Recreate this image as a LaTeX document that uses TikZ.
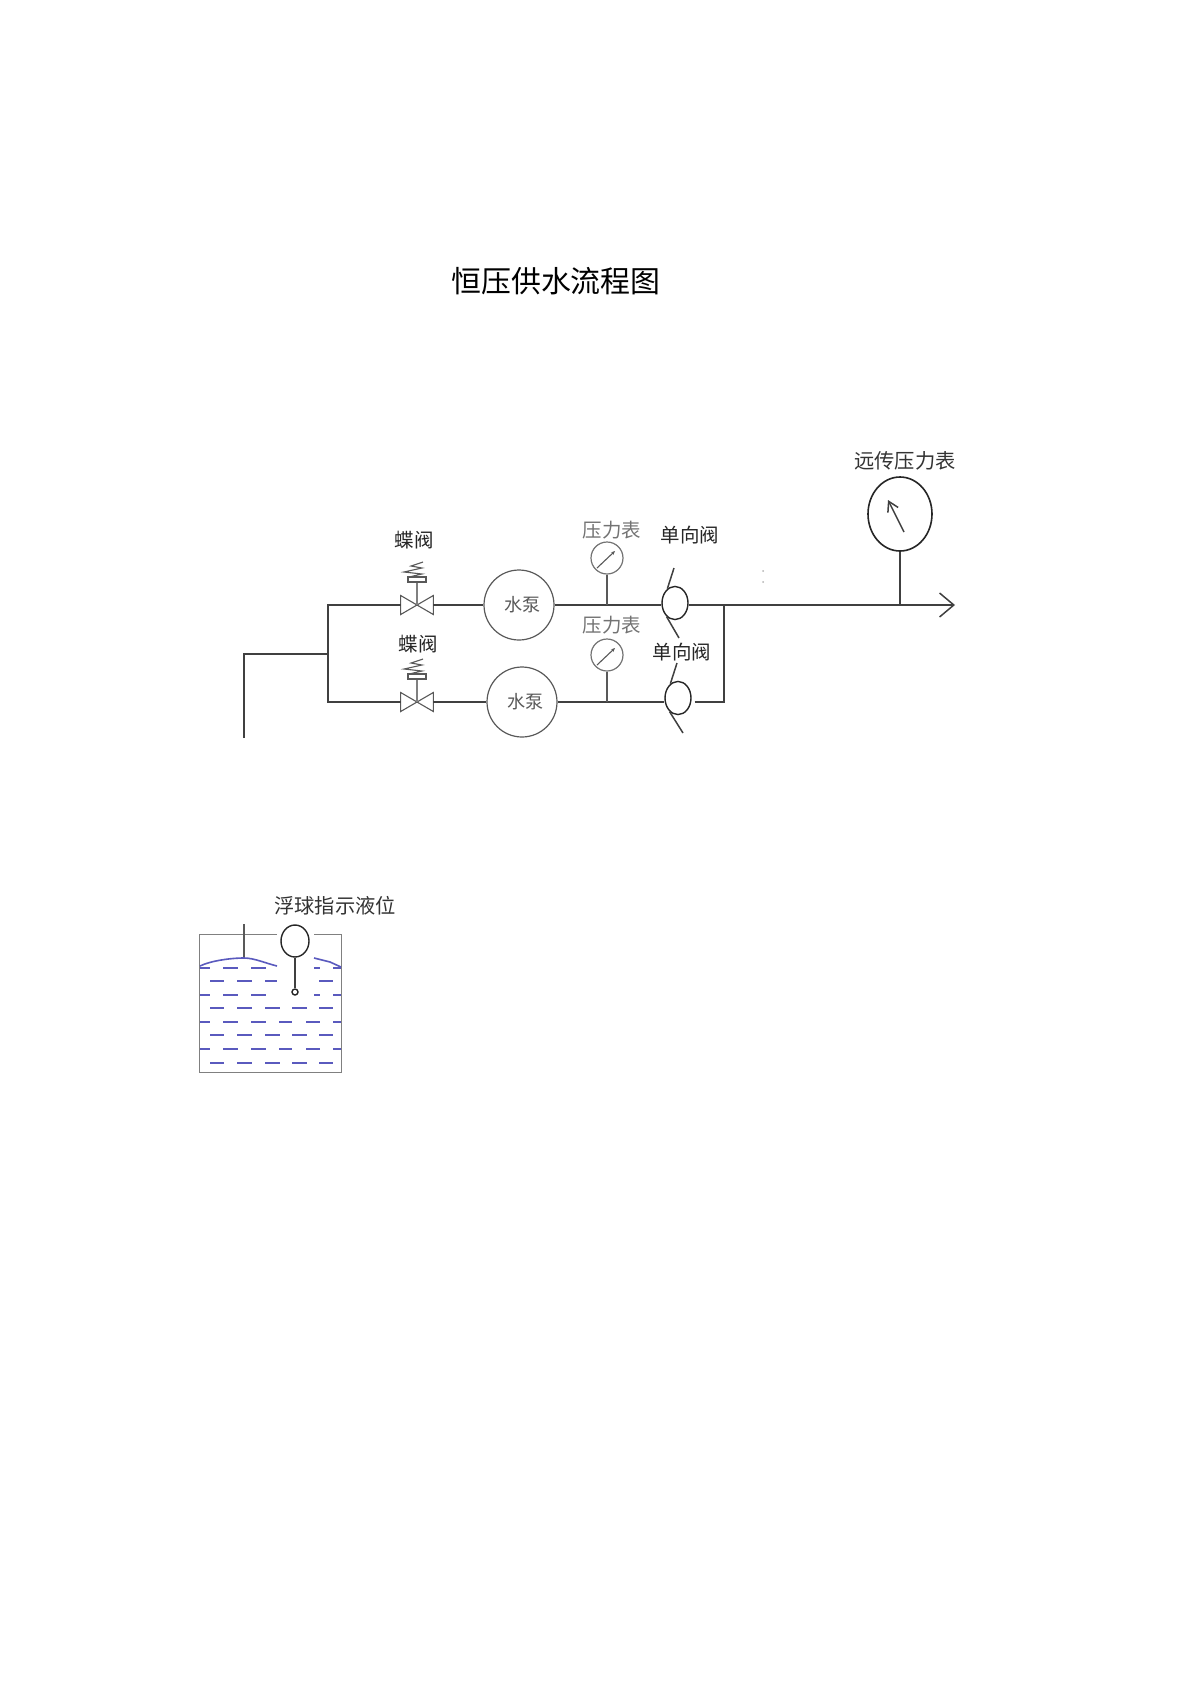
\documentclass[tikz,border=0pt]{standalone}
\usepackage{fontspec}
\setmainfont{Noto Sans CJK SC}
\usetikzlibrary{shapes.geometric,arrows.meta,calc}
\definecolor{waterblue}{RGB}{90,90,190}
\tikzset{
	pipe/.style={line width=.75pt,color=black!75},
	thinpipe/.style={line width=.55pt,color=black!65},
	label/.style={inner sep=0pt,font=\fontsize{9.7}{11}\selectfont,color=black!85},
	biglabel/.style={inner sep=0pt,font=\fontsize{10.1}{12}\selectfont,color=black!80},
	pumpbox/.style={circle,draw=black!65,line width=.6pt,minimum size=1.225cm,inner sep=0pt,font=\fontsize{9}{10}\selectfont,text=black!65},
	gaugebox/.style={circle,draw=black!55,line width=.6pt,minimum size=.56cm,inner sep=0pt},
	valvebox/.style={inner sep=0pt,minimum width=.56cm,minimum height=.32cm},
	checkbox/.style={ellipse,draw=black!85,line width=.7pt,minimum width=.455cm,minimum height=.58cm,inner sep=0pt},
	water/.style={line width=.55pt,color=waterblue},
}
\begin{document}
\begin{tikzpicture}[x=.0175cm,y=-.0175cm]
			\useasboundingbox (0,0) rectangle (1200,1697);
			\node[inner sep=0pt,font=\fontsize{14.9}{17}\selectfont] (title) at (556,281) {恒压供水流程图};

			\foreach \n/\y/\px/\chx/\chy/\vlab/\vlaby/\plab/\clabx/\claby/\sy/\ey/\sx/\ex in {a/605/519/675/603/414/540/530/690/535/568/638/674/679,b/702/522/678/698/418/644/625/682/652/663/733/677/683}
			{
				\node[valvebox] (valve\n) at (417,\y) {};
				\draw[thinpipe] (valve\n.north west) -- (valve\n.south east) -- (valve\n.north east) -- (valve\n.south west) -- cycle;
				\draw[gray,line width=1.1pt] (valve\n.center) -- ++(0,-23);
				\draw[thinpipe,fill=white,shift={(417,\y)}] (-9,-28) rectangle (9,-23);
				\draw[thinpipe,shift={(417,\y)}] (6,-43) -- (-6,-39) -- (5,-37) -- (-13,-33) -- (5,-31) -- (-8,-28);
				\node[label] (valvelabel\n) at (\vlab,\vlaby) {蝶阀};

				\node[pumpbox] (pump\n) at (\px,\y) {\hspace*{.12cm}水泵};
				\node[gaugebox] (gauge\n) at (607,\y-47) {};
				\draw[thinpipe,-{Stealth[length=.07cm,width=.06cm]}] ($(gauge\n.center)+(-10,10)$) -- ($(gauge\n.center)+(8,-7)$);
				\node[label,text=black!55] (gaugelabel\n) at (612,\plab) {压力表};
				\node[checkbox] (check\n) at (\chx,\chy) {};
				\node[label] (checklabel\n) at (\clabx,\claby) {单向阀};
				\coordinate (slashtop\n) at (\sx,\sy);
				\coordinate (slashend\n) at (\ex,\ey);
				\draw[pipe] (slashtop\n) -- (check\n.118);
				\draw[pipe] (check\n.238) -- (slashend\n);

				\draw[pipe] (valve\n.east) -- (pump\n.west);
				\draw[pipe] (pump\n.east) -- (pump\n.east -| check\n.west);
				\draw[thinpipe] (gauge\n.south) -- (gauge\n.south |- pump\n.east);
			}

			% suction side
			\coordinate (inlet) at (244,738);
			\coordinate (inletcorner) at (244,654);
			\coordinate (branch) at (328,654);
			\draw[pipe] (inlet) -- (inletcorner) -- (branch);
			\draw[pipe] (valvea.west) -| (branch) |- (valveb.west);

			% delivery side
			\coordinate (tee) at (724,605);
			\coordinate (outlet) at (955,605);
			\node[ellipse,draw=black!85,line width=.8pt,minimum width=1.12cm,minimum height=1.295cm,inner sep=0pt] (remote) at (900,514) {};
			\node[biglabel] (remotelabel) at (905,461) {远传压力表};
			\draw[pipe] (checka.east |- tee) -- (tee);
			\draw[pipe,-{Straight Barb[length=.25cm,width=.42cm]}] (tee) -- (outlet);
			\draw[pipe,shorten <=.05cm] (checkb.east |- valveb) -| (tee);
			\draw[pipe] (remote.south) -- (remote.south |- tee);
			\draw[pipe,-{Straight Barb[length=.17cm,width=.2cm]}] (904,532) -- (888,500);
			\foreach \y in {571,582}
			\fill[black!30] (763,\y) circle (1);

			% tank
			\coordinate (tankleft) at (199,934);
			\coordinate (tankright) at (341,934);
			\coordinate (tankbottomleft) at (199,1072);
			\coordinate (tankbottomright) at (341,1072);
			\node[ellipse,draw=black!85,line width=.7pt,minimum width=.49cm,minimum height=.56cm,inner sep=0pt] (float) at (295,941) {};
			\node[circle,draw=black!85,line width=.7pt,minimum size=.105cm,inner sep=0pt] (ball) at (295,992) {};
			\node[biglabel] (floatlabel) at (335,906) {浮球指示液位};
			\draw[line width=.5pt,color=black!50] (277,934) -- (tankleft) -- (tankbottomleft) -- (tankbottomright) -- (tankright) -- (314,934);
			\draw[pipe] (float.south) -- (ball.north);
			\draw[thinpipe] (244,924) -- (244,958);
			\draw[water,line width=.8pt] (200,966) .. controls (210,961) and (230,958) .. (244,958) .. controls (254,958) and (265,963) .. (277,966);
			\draw[water,line width=.8pt] (314,958) -- (330,962) -- (341,967);

			\foreach \y in {968,995}
			{
				\foreach \a/\b in {200/210,223/238,251/266,314/320,333/341}
				\draw[water] (\a,\y) -- (\b,\y);
			}
			\draw[water] (319,981) -- (333,981);
			\foreach \a/\b in {210/224,237/252,265/277}
			\draw[water] (\a,981) -- (\b,981);
			\foreach \y in {1008,1035,1063}
			{
				\foreach \a/\b in {210/224,237/252,265/280,292/307,319/333}
				\draw[water] (\a,\y) -- (\b,\y);
			}
			\foreach \y/\w in {1022/.55pt,1049/1.2pt}
			{
				\foreach \a/\b in {200/210,223/238,251/266,279/292,306/320,333/341}
				\draw[water,line width=\w] (\a,\y) -- (\b,\y);
			}
		\end{tikzpicture}
\end{document}
